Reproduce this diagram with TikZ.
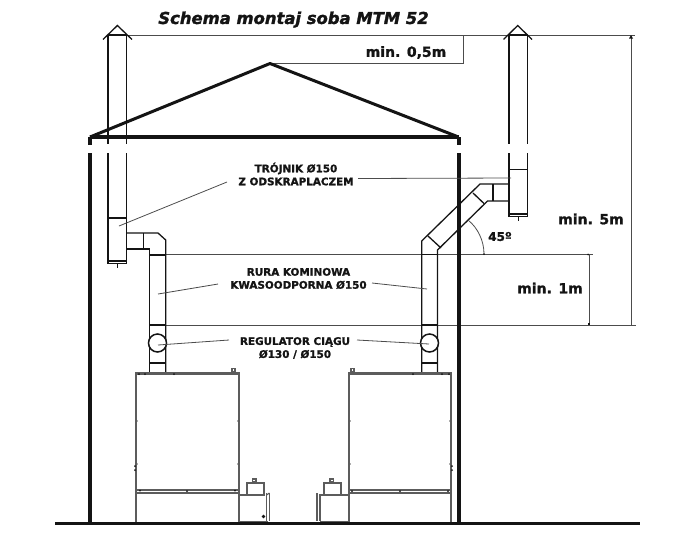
\documentclass[tikz,border=0pt]{standalone}
\usepackage{fontspec}
\setmainfont{DejaVu Sans}
\newfontfamily\heavy[FakeBold=1.3]{DejaVu Sans Bold}
\newfontfamily\heavyit[FakeBold=1.6]{DejaVu Sans Bold Oblique}
\usetikzlibrary{arrows.meta}
\definecolor{ink}{gray}{0.08}
\definecolor{thin}{gray}{0.3}
\definecolor{stove}{gray}{0.36}
\tikzset{
  wall/.style={line width=3.4pt,draw=ink},
  roof/.style={line width=3pt,draw=ink,line join=round},
  pipe/.style={line width=1.3pt,draw=ink,line join=miter},
  dim/.style={line width=0.8pt,draw=thin},
  leader/.style={line width=0.8pt,draw=thin},
  stovel/.style={line width=1.2pt,draw=stove},
  lab/.style={font=\heavy\fontsize{10.4}{13}\selectfont,align=center,text=ink,inner sep=0pt},
  dimlab/.style={font=\heavy\fontsize{14}{16}\selectfont,text=ink,inner sep=0pt},
  titl/.style={font=\heavyit\fontsize{16.4}{18}\selectfont,text=ink,inner sep=0pt}
}
\begin{document}
\begin{tikzpicture}[x=1pt,y=-1pt]
\useasboundingbox (0,0) rectangle (700,542);
% dimension lines
\coordinate (topL) at (127,35); \coordinate (topR) at (635,35);
\coordinate (apex) at (270,63.5); \coordinate (apexR) at (463,63.5);
\coordinate (midL) at (166,254.5); \coordinate (midR) at (593,254.5);
\coordinate (lowL) at (166,325); \coordinate (lowR) at (636,325);
\draw[dim] (topL) -- (topR);
\draw[dim] (apex) -- (apexR);
\draw[dim] (463,35) -- (apexR);
\draw[dim] (midL) -- (midR);
\draw[dim] (lowL) -- (lowR);
\draw[dim] (631,35) -- (631,325);
\draw[dim] (589,254.5) -- (589,325);
\fill[ink] (631,35) -- (629,38.5) -- (633,38.5) -- cycle;
\fill[ink] (587.7,322.5) rectangle (590.3,325);
\fill[ink] (588,254.5) circle (1);
\fill[ink] (484,254) circle (1);
% roof and walls
\coordinate (eaveL) at (90,137); \coordinate (eaveR) at (458.5,137);
\draw[roof] (eaveL) -- (270,63.5) -- (eaveR);
\draw[wall] (eaveL) -- (eaveR);
\draw[wall] (90,137) -- (90,144.5);
\draw[wall] (459,137) -- (459,144.5);
\draw[wall] (90,153) -- (90,523);
\draw[wall] (459,153) -- (459,523);
\draw[wall] (55,523.5) -- (640,523.5);
% left chimney
\draw[pipe] (108,35) -- (108,144); \draw[pipe] (126.7,35) -- (126.7,144);
\draw[pipe] (108,153) -- (108,263.5) -- (126.7,263.5) -- (126.7,153);
\draw[pipe] (108,218) -- (126.7,218);
\draw[pipe] (108,261) -- (126.7,261);
\draw[line width=1pt,draw=ink] (117.5,263.5) -- (117.5,268);
\draw[pipe] (103,39.5) -- (117.4,25.5) -- (132,39.5);
\draw[pipe] (108,35) -- (126.7,35);
% left tee and elbow
\draw[pipe] (126.7,233) -- (158,233) -- (165.7,240) -- (165.7,373);
\draw[pipe] (126.7,249) -- (149.2,249) -- (149.2,373);
\draw[pipe] (143.3,233) -- (143.3,249);
\draw[pipe] (149.2,255) -- (165.7,255);
\draw[line width=2pt,draw=ink] (149.2,325) -- (165.7,325);
\draw[pipe] (149.2,363) -- (165.7,363);
\node[circle,draw=ink,line width=1.5pt,fill=white,minimum size=18pt,inner sep=0pt] (regL) at (157.5,343) {};
% right chimney
\draw[pipe] (509,35) -- (509,144); \draw[pipe] (527.8,35) -- (527.8,144);
\draw[pipe] (509,153) -- (509,216.7) -- (527.8,216.7) -- (527.8,153);
\draw[pipe] (509,169.3) -- (527.8,169.3);
\draw[pipe] (509,214) -- (527.8,214);
\draw[line width=1pt,draw=ink] (518,216.7) -- (518,220.5);
\draw[pipe] (503.5,39.5) -- (517.7,25.5) -- (532,39.5);
\draw[pipe] (509,35) -- (527.8,35);
% right tee, diagonal, stack
\draw[pipe] (509,184) -- (480,184) -- (421.7,241) -- (421.7,373);
\draw[pipe] (509,201) -- (487.5,201) -- (437.5,250) -- (437.5,373);
\draw[pipe] (493,184) -- (493,201);
\draw[pipe] (473,193) -- (484,203.5);
\draw[pipe] (428,236) -- (441,248);
\draw[pipe] (421.7,254.5) -- (437.5,254.5);
\draw[line width=2pt,draw=ink] (421.7,325) -- (437.5,325);
\draw[pipe] (421.7,363) -- (437.5,363);
\node[circle,draw=ink,line width=1.5pt,fill=white,minimum size=18pt,inner sep=0pt] (regR) at (429.5,343) {};
% 45 degree arc
\draw[line width=0.8pt,draw=thin] (468,220) .. controls (478,228) and (484,241) .. (484,254);
% left stove
\draw[stovel] (136,522) -- (136,374) -- (239,374) -- (239,522);
\draw[stovel] (135,372.5) -- (240,372.5);
\draw[stovel] (136,490) -- (239,490);
\draw[stovel] (136,493) -- (239,493);
\draw[stovel] (247,495) -- (247,483) -- (264,483) -- (264,495);
\draw[stovel] (239,495) -- (265,495);
\draw[stovel] (239,521.5) -- (268,521.5);
\draw[stovel] (266.5,493) -- (266.5,521) ; \draw[stovel] (269.5,493) -- (269.5,521);
\draw[stovel] (269.5,493) -- (266.5,495);
\draw[stovel] (252.5,482) rectangle (256,479);
\draw[stovel] (232,371.5) rectangle (235,368.5);
\fill[ink] (263.5,516.5) circle (1.8);
\foreach \p in {(139,374),(145,374),(174,374),(140,490.5),(187,491),(235,490.5),(135,466),(135,470)}
  \fill[ink] \p circle (1);
\foreach \p in {(137,421),(238,421),(137,464),(238,464)}
  \fill[stove] \p circle (0.8);
% right stove
\draw[stovel] (349,522) -- (349,374) -- (451,374) -- (451,522);
\draw[stovel] (348,372.5) -- (452,372.5);
\draw[stovel] (349,490) -- (451,490);
\draw[stovel] (349,493) -- (451,493);
\draw[stovel] (324,495) -- (324,483) -- (341,483) -- (341,495);
\draw[stovel] (319,495) -- (349,495);
\draw[stovel] (320,521.5) -- (349,521.5);
\draw[stovel] (317,493) -- (317,521); \draw[stovel] (320,495) -- (320,521);
\draw[stovel] (330,482) rectangle (333.5,479);
\draw[stovel] (351,371.5) rectangle (354,368.5);
\foreach \p in {(413,374),(442,374),(449,374),(352,491),(400,491),(448,491),(452,466),(452,470)}
  \fill[ink] \p circle (1);
\foreach \p in {(350,421),(450,421),(350,464),(450,464)}
  \fill[stove] \p circle (0.8);
% labels
\node[titl,anchor=center] (title) at (293.5,19.5) {Schema montaj soba MTM 52};
\node[dimlab] (d05) at (406,52.5) {min. 0,5m};
\node[dimlab] (d5) at (591,219) {min. 5m};
\node[dimlab] (d1) at (550,288) {min. 1m};
\node[lab,font=\heavy\fontsize{12}{13}\selectfont] (a45) at (500,236.5) {45º};
\node[lab] (tee) at (296,174) {TRÓJNIK Ø150\\Z ODSKRAPLACZEM};
\node[lab] (rura) at (298.5,278.5) {RURA KOMINOWA\\KWASOODPORNA Ø150};
\node[lab] (reg) at (295,348) {REGULATOR CIĄGU\\Ø130 / Ø150};
% leaders
\coordinate (teeLa) at (227,182); \coordinate (teeLb) at (119,226);
\coordinate (teeRa) at (358,178.5); \coordinate (teeRb) at (511,178);
\coordinate (ruLa) at (218,284); \coordinate (ruLb) at (158,294);
\coordinate (ruRa) at (372,283); \coordinate (ruRb) at (427,289);
\coordinate (reLa) at (229,340); \coordinate (reLb) at (158,345);
\coordinate (reRa) at (357,340); \coordinate (reRb) at (429,344);
\draw[leader] (teeLa) -- (teeLb);
\draw[leader] (teeRa) -- (teeRb);
\draw[leader] (ruLa) -- (ruLb);
\draw[leader] (ruRa) -- (ruRb);
\draw[leader] (reLa) -- (reLb);
\draw[leader] (reRa) -- (reRb);
\end{tikzpicture}
\end{document}
